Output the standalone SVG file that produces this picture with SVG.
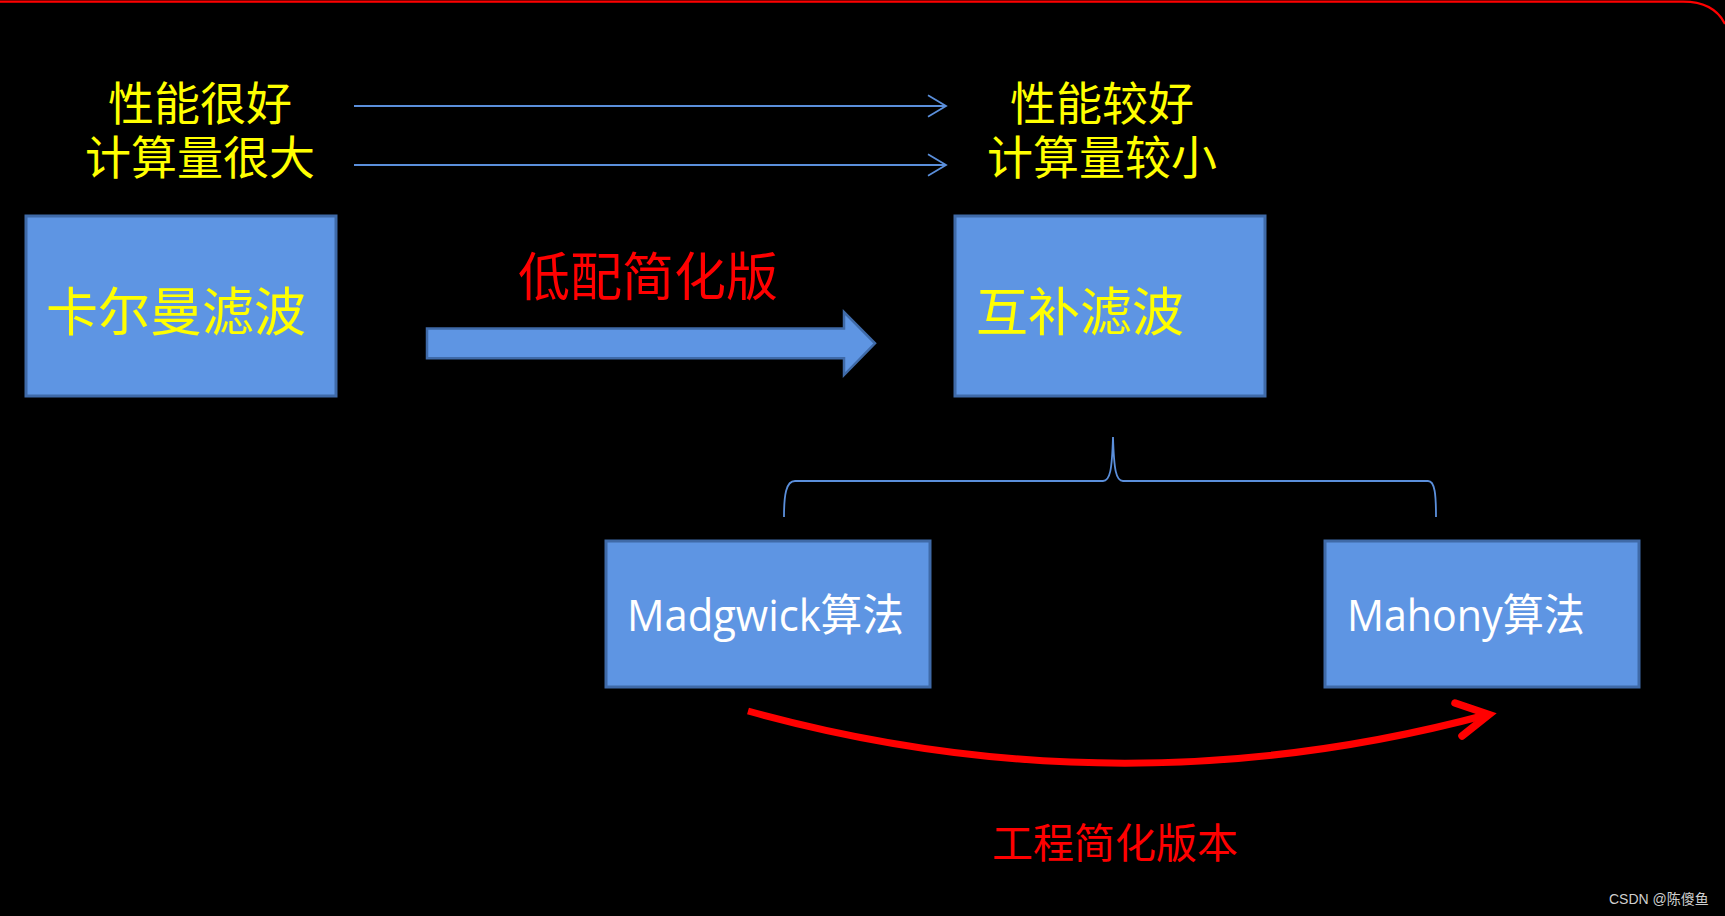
<svg xmlns="http://www.w3.org/2000/svg" width="1725" height="916" viewBox="0 0 1725 916">
<style>
.box{fill:#5E95E3;stroke:#3F6AA8;stroke-width:3}
.cjk{font-family:"Noto Sans CJK SC","Noto Sans",sans-serif}
.lat{font-family:"Open Sans","Noto Sans CJK SC",sans-serif}
.yel{fill:#FFFF00}
.red{fill:#FF0000}
.wht{fill:#FFFFFF}
.thin{fill:none;stroke:#5B8FDB;stroke-width:1.8}
</style>
<rect x="0" y="0" width="1725" height="916" fill="#000000"/>
<path d="M0 1.7 H1683 C1703 1.7 1717 8 1725 24" fill="none" stroke="#FF0000" stroke-width="2.2"/>

<g id="label-top-left">
<text class="cjk yel" font-size="46" text-anchor="middle"><tspan x="200" y="120">性能很好</tspan><tspan x="200" y="174">计算量很大</tspan></text>
</g>
<g id="label-top-right">
<text class="cjk yel" font-size="46" text-anchor="middle"><tspan x="1102" y="120">性能较好</tspan><tspan x="1102" y="174">计算量较小</tspan></text>
</g>

<g id="kalman">
<rect class="box" x="26" y="216" width="310" height="180"/>
<text class="cjk yel" x="46" y="331" font-size="52">卡尔曼滤波</text>
</g>
<g id="complementary">
<rect class="box" x="955" y="216" width="310" height="180"/>
<text class="cjk yel" x="976" y="331" font-size="52">互补滤波</text>
</g>
<g id="madgwick">
<rect class="box" x="606" y="541" width="324" height="146"/>
<text class="lat wht" x="627" y="631" font-size="44" textLength="277" lengthAdjust="spacingAndGlyphs">Madgwick算法</text>
</g>
<g id="mahony">
<rect class="box" x="1325" y="541" width="314" height="146"/>
<text class="lat wht" x="1347" y="631" font-size="44" textLength="238" lengthAdjust="spacingAndGlyphs">Mahony算法</text>
</g>

<g id="connectors">
<path class="thin" d="M354 106 H946 M928 95.3 L946 106 L928 116.7"/>
<path class="thin" d="M354 165 H946 M928 154.3 L946 165 L928 175.7"/>
<polygon points="427,328.5 844,328.5 844,312 875,343.3 844,375 844,358.3 427,358.3" fill="#5E95E3" stroke="#3F6AA8" stroke-width="2.5"/>
<path class="thin" d="M784 517 C784 495 786 481 795 481 H1103 C1110 481 1112 470 1113 437 C1114 470 1116 481 1123 481 H1428 C1435 481 1436 495 1436 517"/>
<path d="M748 711 Q1119 813.5 1488 714.5" fill="none" stroke="#FF0000" stroke-width="7"/>
<polyline points="1455,703 1489,714.5 1462,736" fill="none" stroke="#FF0000" stroke-width="7.5" stroke-linecap="round" stroke-linejoin="miter"/>
</g>

<g id="label-lowcost">
<text class="cjk red" x="648" y="296" font-size="52" text-anchor="middle">低配简化版</text>
</g>
<g id="label-engineering">
<text class="cjk red" x="1115" y="858" font-size="41" text-anchor="middle">工程简化版本</text>
</g>
<text x="1609" y="904" font-size="14" fill="#CFCFCF" font-family="Liberation Sans, Noto Sans CJK SC, sans-serif">CSDN @陈傻鱼</text>
</svg>
